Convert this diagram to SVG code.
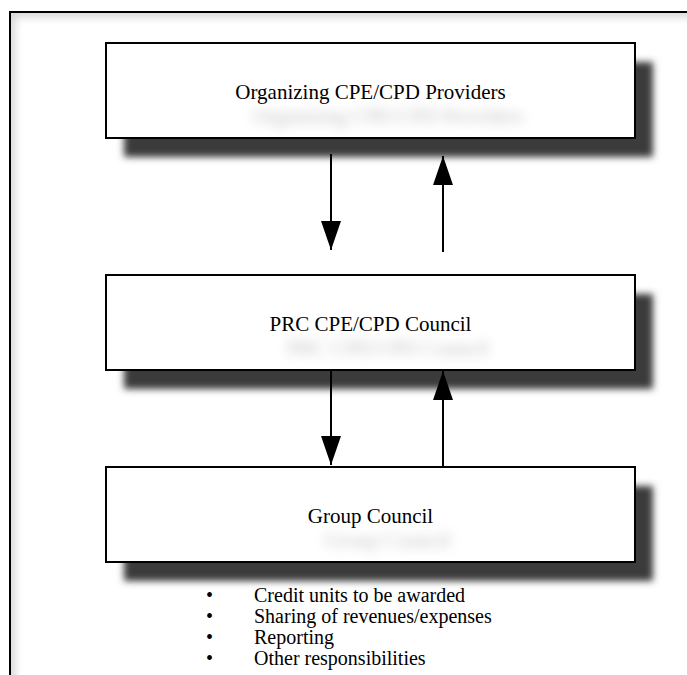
<svg xmlns="http://www.w3.org/2000/svg" width="687" height="675" viewBox="0 0 687 675">
  <defs>
    <style>
      .box { fill: #ffffff; stroke: #000000; stroke-width: 2; }
      .shadow { fill: #3a3a3a; filter: url(#blur); }
      .title { font-family: "Liberation Serif", "Times New Roman", serif; font-size: 21px; fill: #000; text-anchor: middle; }
      .tshadow { font-family: "Liberation Serif", "Times New Roman", serif; font-size: 21px; fill: #8a8a8a; text-anchor: middle; filter: url(#tblur); opacity: 0.55; }
      .item { font-family: "Liberation Serif", "Times New Roman", serif; font-size: 20px; fill: #000; }
      .conn { stroke: #000; stroke-width: 2; fill: none; marker-end: url(#head); }
    </style>
    <filter id="blur" x="-10%" y="-30%" width="120%" height="160%">
      <feGaussianBlur stdDeviation="3.5"/>
    </filter>
    <filter id="tblur" x="-20%" y="-100%" width="140%" height="300%">
      <feGaussianBlur stdDeviation="6"/>
    </filter>
    <filter id="glow" x="-10%" y="-10%" width="120%" height="120%">
      <feGaussianBlur stdDeviation="4"/>
    </filter>
    <clipPath id="frameclip">
      <rect x="11" y="13" width="700" height="700"/>
    </clipPath>
    <marker id="head" markerUnits="userSpaceOnUse" markerWidth="29" markerHeight="20" refX="29" refY="10" orient="auto" viewBox="0 0 29 20">
      <path d="M0,0 L29,10 L0,20 Z" fill="#000"/>
    </marker>
  </defs>

  <rect x="0" y="0" width="687" height="675" fill="#ffffff"/>

  <g id="frame">
    <g clip-path="url(#frameclip)">
      <rect x="10" y="12" width="700" height="700" fill="none" stroke="#d4d4d4" stroke-width="10" filter="url(#glow)"/>
    </g>
    <rect x="10" y="12" width="700" height="700" fill="none" stroke="#000" stroke-width="2"/>
  </g>

  <g id="node-providers">
    <rect class="shadow" x="124" y="62" width="529" height="95"/>
    <rect class="box" x="106" y="43" width="529" height="95"/>
    <text class="tshadow" x="388" y="123">Organizing CPE/CPD Providers</text>
    <text class="title" x="370.5" y="99">Organizing CPE/CPD Providers</text>
  </g>

  <g id="node-prc">
    <rect class="shadow" x="124" y="294" width="529" height="95"/>
    <rect class="box" x="106" y="275" width="529" height="95"/>
    <text class="tshadow" x="388" y="355">PRC CPE/CPD Council</text>
    <text class="title" x="370.5" y="331">PRC CPE/CPD Council</text>
  </g>

  <g id="node-group">
    <rect class="shadow" x="124" y="486" width="529" height="95"/>
    <rect class="box" x="106" y="467" width="529" height="95"/>
    <text class="tshadow" x="388" y="547">Group Council</text>
    <text class="title" x="370.5" y="523">Group Council</text>
  </g>

  <g id="connectors">
    <line class="conn" x1="331" y1="154" x2="331" y2="250"/>
    <line class="conn" x1="443" y1="252" x2="443" y2="156"/>
    <line class="conn" x1="331" y1="370" x2="331" y2="465"/>
    <line class="conn" x1="443" y1="466" x2="443" y2="371"/>
  </g>

  <g id="list">
    <text class="item" y="602"><tspan x="206">•</tspan><tspan x="254">Credit units to be awarded</tspan></text>
    <text class="item" y="623"><tspan x="206">•</tspan><tspan x="254">Sharing of revenues/expenses</tspan></text>
    <text class="item" y="644"><tspan x="206">•</tspan><tspan x="254">Reporting</tspan></text>
    <text class="item" y="665"><tspan x="206">•</tspan><tspan x="254">Other responsibilities</tspan></text>
  </g>
</svg>
